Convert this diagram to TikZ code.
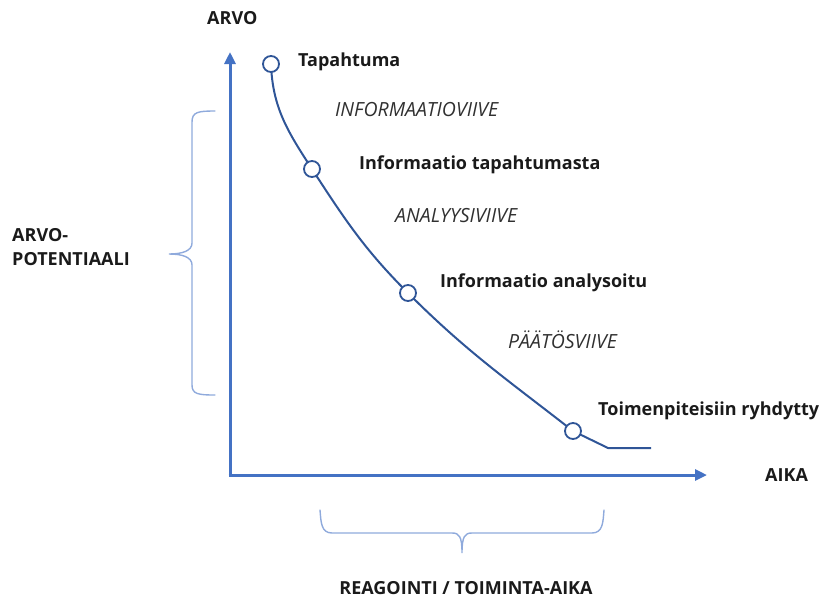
\documentclass[tikz,border=0pt]{standalone}
\usepackage{fontspec}
\setmainfont{Open Sans}
\usetikzlibrary{arrows.meta}
\definecolor{axisblue}{HTML}{4472C4}
\definecolor{curveblue}{HTML}{2F5597}
\definecolor{braceblue}{HTML}{8FAADC}
\definecolor{notegray}{HTML}{303030}
\definecolor{labelink}{HTML}{1A1A1A}
\begin{document}
\begin{tikzpicture}[x=1pt,y=-1pt,
  axis/.style={axisblue,line width=3pt,-{Triangle[length=12pt,width=11pt]}},
  valuecurve/.style={curveblue,line width=2pt,line join=round},
  milestone/.style={circle,draw=curveblue,fill=white,line width=1.8pt,minimum size=16pt,inner sep=0pt},
  brace/.style={braceblue,line width=1.4pt,line cap=round},
  lbl/.style={anchor=west,font=\fontsize{18}{21}\selectfont\bfseries,text=labelink,inner sep=0pt},
  delay/.style={anchor=west,font=\fontsize{19.5}{22}\selectfont\itshape,text=notegray,inner sep=0pt}]
\useasboundingbox (0,0) rectangle (826,606);

% axes
\coordinate (origin) at (230,475);
\coordinate (ytop) at (230,52);
\coordinate (xend) at (707,475);
\draw[axis] ([yshift=1.5pt]origin) -- (ytop);
\draw[axis] ([xshift=-1.5pt]origin) -- (xend);

% value curve with its milestones
\coordinate (p1) at (271,64);
\coordinate (p2) at (312,169);
\coordinate (p3) at (408,293);
\coordinate (p4) at (573,431);
\coordinate (bend) at (608,448);
\coordinate (tail) at (651,448);
\draw[valuecurve] (p1) to[out=-88,in=123] (p2) to[out=-57,in=135] (p3)
  to[out=-45,in=142] (p4) -- (bend) -- (tail);
\node[milestone] (m1) at (p1) {};
\node[milestone] (m2) at (p2) {};
\node[milestone] (m3) at (p3) {};
\node[milestone] (m4) at (p4) {};

% labels
\node[lbl] (ylabel) at (207,18) {ARVO};
\node[lbl] (xlabel) at (765,475) {AIKA};
\node[lbl] (l1) at (298,62) {Tapahtuma};
\node[delay] (d1) at (335,110) {INFORMAATIOVIIVE};
\node[lbl] (l2) at (359,165) {Informaatio tapahtumasta};
\node[delay] (d2) at (395,216) {ANALYYSIVIIVE};
\node[lbl] (l3) at (440,283) {Informaatio analysoitu};
\node[delay] (d3) at (508,340) {PÄÄTÖSVIIVE};
\node[lbl] (l4) at (598,411) {Toimenpiteisiin ryhdytty};
\node[lbl,align=left,font=\fontsize{18}{23.5}\selectfont\bfseries] (pot) at (12,247) {ARVO-\\POTENTIAALI};
\node[lbl,anchor=center] (react) at (466,588) {REAGOINTI / TOIMINTA-AIKA};

% braces
\draw[brace] (215,111) .. controls (198,111) and (192,112) .. (192,122)
  -- (192,243) .. controls (192,251) and (182,254) .. (169,254)
  .. controls (182,254) and (192,257) .. (192,265)
  -- (192,385) .. controls (192,394) and (198,395) .. (215,395);
\draw[brace] (320,510) .. controls (321,522) and (321,533) .. (332,533)
  -- (452,533) .. controls (459,533) and (462,536) .. (462,553)
  .. controls (462,536) and (465,533) .. (472,533)
  -- (592,533) .. controls (603,533) and (603,522) .. (604,510);
\end{tikzpicture}
\end{document}
